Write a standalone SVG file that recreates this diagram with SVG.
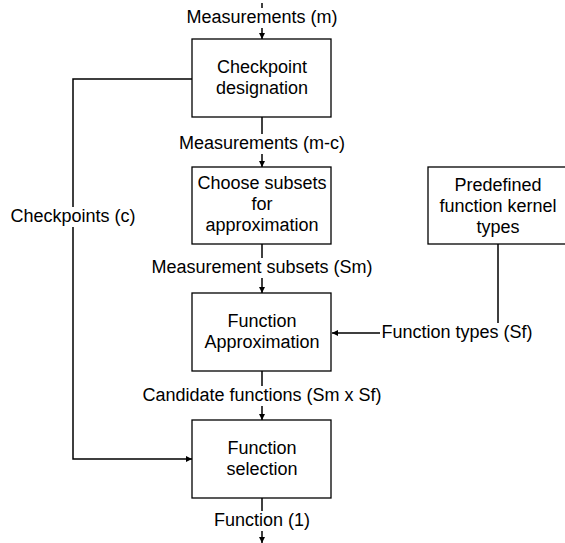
<svg xmlns="http://www.w3.org/2000/svg" width="565" height="543" viewBox="0 0 565 543">
<style>
.box{fill:#fff;stroke:#000;stroke-width:1.3}
.edge{fill:none;stroke:#000;stroke-width:1.5}
text{font-family:"Liberation Sans",Arial,sans-serif;font-size:18px;fill:#000;text-anchor:middle}
.lbg{fill:#fff}
</style>
<defs>
<marker id="arr" viewBox="0 0 10 10" refX="10" refY="5" markerWidth="6" markerHeight="6" markerUnits="userSpaceOnUse" orient="auto">
<path d="M0,0 L10,5 L0,10 z" fill="#000"/>
</marker>
</defs>
<rect width="565" height="543" fill="#fff"/>
<g id="connectors">
<path class="edge" d="M262,3 L262,39" marker-end="url(#arr)"/>
<path class="edge" d="M262,117 L262,167" marker-end="url(#arr)"/>
<path class="edge" d="M262,244 L262,293" marker-end="url(#arr)"/>
<path class="edge" d="M262,371 L262,420" marker-end="url(#arr)"/>
<path class="edge" d="M262,498 L262,543" marker-end="url(#arr)"/>
<path class="edge" d="M192,79 L73,79 L73,459 L192,459" marker-end="url(#arr)"/>
<path class="edge" d="M498,244 L498,333 L332,333" marker-end="url(#arr)"/>
<rect class="lbg" x="184" y="8" width="156" height="20"/>
<text x="262" y="23">Measurements (m)</text>
<rect class="lbg" x="174" y="134" width="176" height="20"/>
<text x="262" y="149">Measurements (m-c)</text>
<rect class="lbg" x="145" y="258" width="234" height="20"/>
<text x="262" y="273">Measurement subsets (Sm)</text>
<rect class="lbg" x="135" y="386" width="254" height="20"/>
<text x="262" y="401">Candidate functions (Sm x Sf)</text>
<rect class="lbg" x="212" y="511" width="100" height="20"/>
<text x="262" y="526">Function (1)</text>
<rect class="lbg" x="380" y="323" width="155" height="20"/>
<text x="457" y="338">Function types (Sf)</text>
<rect class="lbg" x="9" y="207" width="128" height="20"/>
<text x="73" y="222">Checkpoints (c)</text>
</g>
<g id="checkpoint-designation">
<rect class="box" x="192" y="39" width="139" height="78"/>
<text x="262" y="73">Checkpoint</text>
<text x="262" y="94">designation</text>
</g>
<g id="choose-subsets">
<rect class="box" x="192" y="167" width="139" height="77"/>
<text x="262" y="189">Choose subsets</text>
<text x="262" y="210">for</text>
<text x="262" y="231">approximation</text>
</g>
<g id="predefined-kernels">
<rect class="box" x="428" y="167" width="140" height="77"/>
<text x="498" y="191">Predefined</text>
<text x="498" y="212">function kernel</text>
<text x="498" y="233">types</text>
</g>
<g id="function-approximation">
<rect class="box" x="192" y="293" width="139" height="78"/>
<text x="262" y="327">Function</text>
<text x="262" y="348">Approximation</text>
</g>
<g id="function-selection">
<rect class="box" x="192" y="420" width="139" height="78"/>
<text x="262" y="454">Function</text>
<text x="262" y="475">selection</text>
</g>
</svg>
